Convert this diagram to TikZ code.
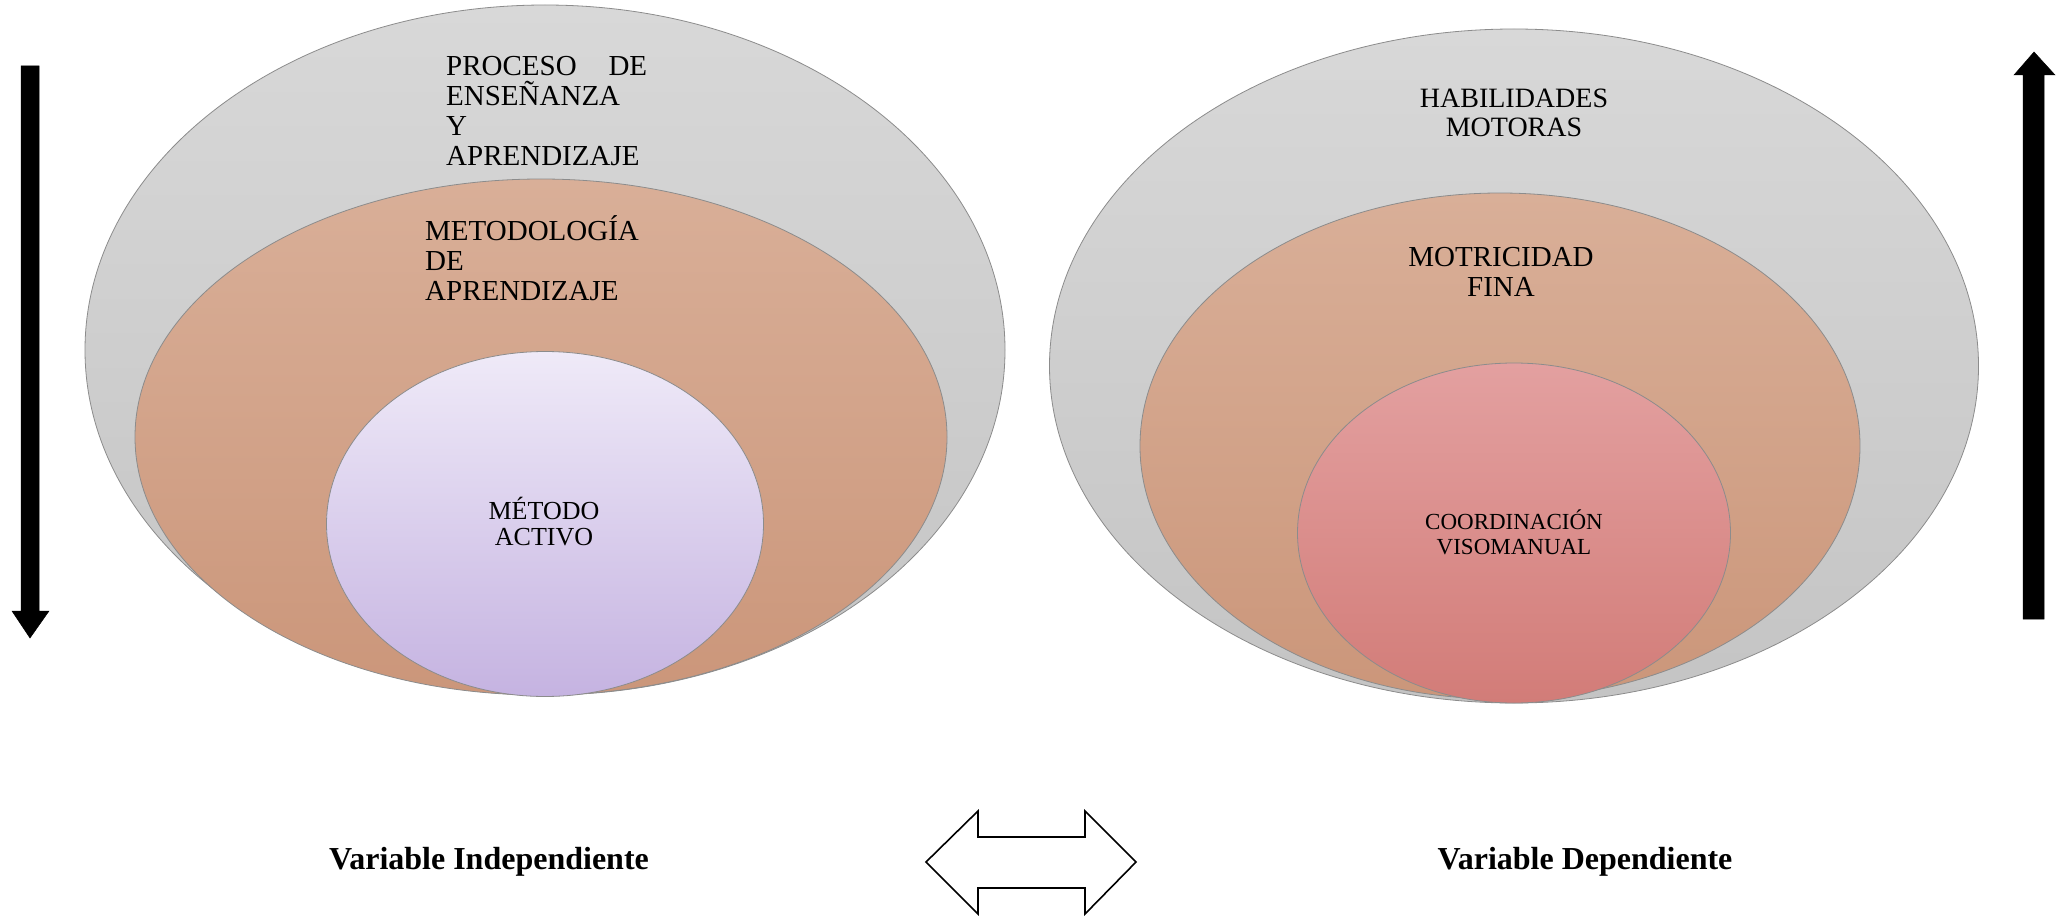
\documentclass[tikz,border=0pt]{standalone}
\usepackage{fontspec}
\setmainfont{Liberation Serif}
\usetikzlibrary{shapes.geometric}
\definecolor{grayTop}{HTML}{D8D8D8}
\definecolor{grayBot}{HTML}{C4C4C4}
\definecolor{orTop}{HTML}{D9AF98}
\definecolor{orBot}{HTML}{CB967A}
\definecolor{puTop}{HTML}{EFEAF8}
\definecolor{puBot}{HTML}{C5B3E1}
\definecolor{reTop}{HTML}{E3A0A0}
\definecolor{reBot}{HTML}{D27C78}
\definecolor{rimGray}{HTML}{8C8C8C}
\tikzset{
  oval/.style={ellipse, draw=rimGray, line width=0.8pt, inner sep=0pt},
  grayoval/.style={oval, top color=grayTop, bottom color=grayBot},
  orangeoval/.style={oval, top color=orTop, bottom color=orBot},
  purpleoval/.style={oval, top color=puTop, bottom color=puBot},
  redoval/.style={oval, top color=reTop, bottom color=reBot},
  lbl/.style={inner sep=0pt, font=\fontsize{29}{30}\selectfont},
  varlbl/.style={inner sep=0pt, font=\fontsize{32}{34}\selectfont\bfseries},
  blockarrow/.style={fill=black, draw=black, line width=0.5pt}
}
\begin{document}
\begin{tikzpicture}[x=1pt, y=-1pt]
\useasboundingbox (0,0) rectangle (2057,920);
\fill[white] (0,0) rectangle (2057,920);
% left group
\node[grayoval, minimum width=920pt, minimum height=690pt] (g1) at (545,350) {};
\node[orangeoval, minimum width=812pt, minimum height=516pt] (o1) at (541,437) {};
\node[purpleoval, minimum width=437pt, minimum height=345pt] (p1) at (545,524) {};
\node[lbl, anchor=north west, text width=201pt, align=left] (t1) at (446,56)
  {PROCESO\hfill DE\\ENSEÑANZA\\Y\\APRENDIZAJE};
\node[lbl, anchor=north west, align=left] (t2) at (425,215)
  {METODOLOGÍA\\DE\\APRENDIZAJE};
\node[lbl, font=\fontsize{26}{26}\selectfont, align=center] (t3) at (544,522)
  {MÉTODO\\ACTIVO};
% right group
\node[grayoval, minimum width=929pt, minimum height=674pt] (g2) at (1514,366) {};
\node[orangeoval, minimum width=720pt, minimum height=506pt] (o2) at (1500,446) {};
\node[redoval, minimum width=433pt, minimum height=340pt] (r2) at (1514,533) {};
\node[lbl, font=\fontsize{28}{29}\selectfont, align=center] (t4) at (1514,113)
  {HABILIDADES\\MOTORAS};
\node[lbl, align=center] (t5) at (1501,272)
  {MOTRICIDAD\\FINA};
\node[lbl, font=\fontsize{23}{25}\selectfont, align=center] (t6) at (1514,532)
  {COORDINACIÓN\\VISOMANUAL};
% vertical arrows
\fill[blockarrow] (21,66) -- (39,66) -- (39,611) -- (49,611) -- (30,638) -- (12,611) -- (21,611) -- cycle;
\fill[blockarrow] (2023,619) -- (2044,619) -- (2044,75) -- (2055,75) -- (2034,52) -- (2014,75) -- (2023,75) -- cycle;
% bottom labels
\node[varlbl, anchor=base] (vi) at (489,869) {Variable Independiente};
\node[varlbl, anchor=base] (vd) at (1585,869) {Variable Dependiente};
\draw[line width=1.6pt, fill=white, line join=miter]
  (926,862) -- (978,811) -- (978,837) -- (1085,837) -- (1085,811) -- (1136,862)
  -- (1085,914) -- (1085,888) -- (978,888) -- (978,914) -- cycle;
\end{tikzpicture}
\end{document}
